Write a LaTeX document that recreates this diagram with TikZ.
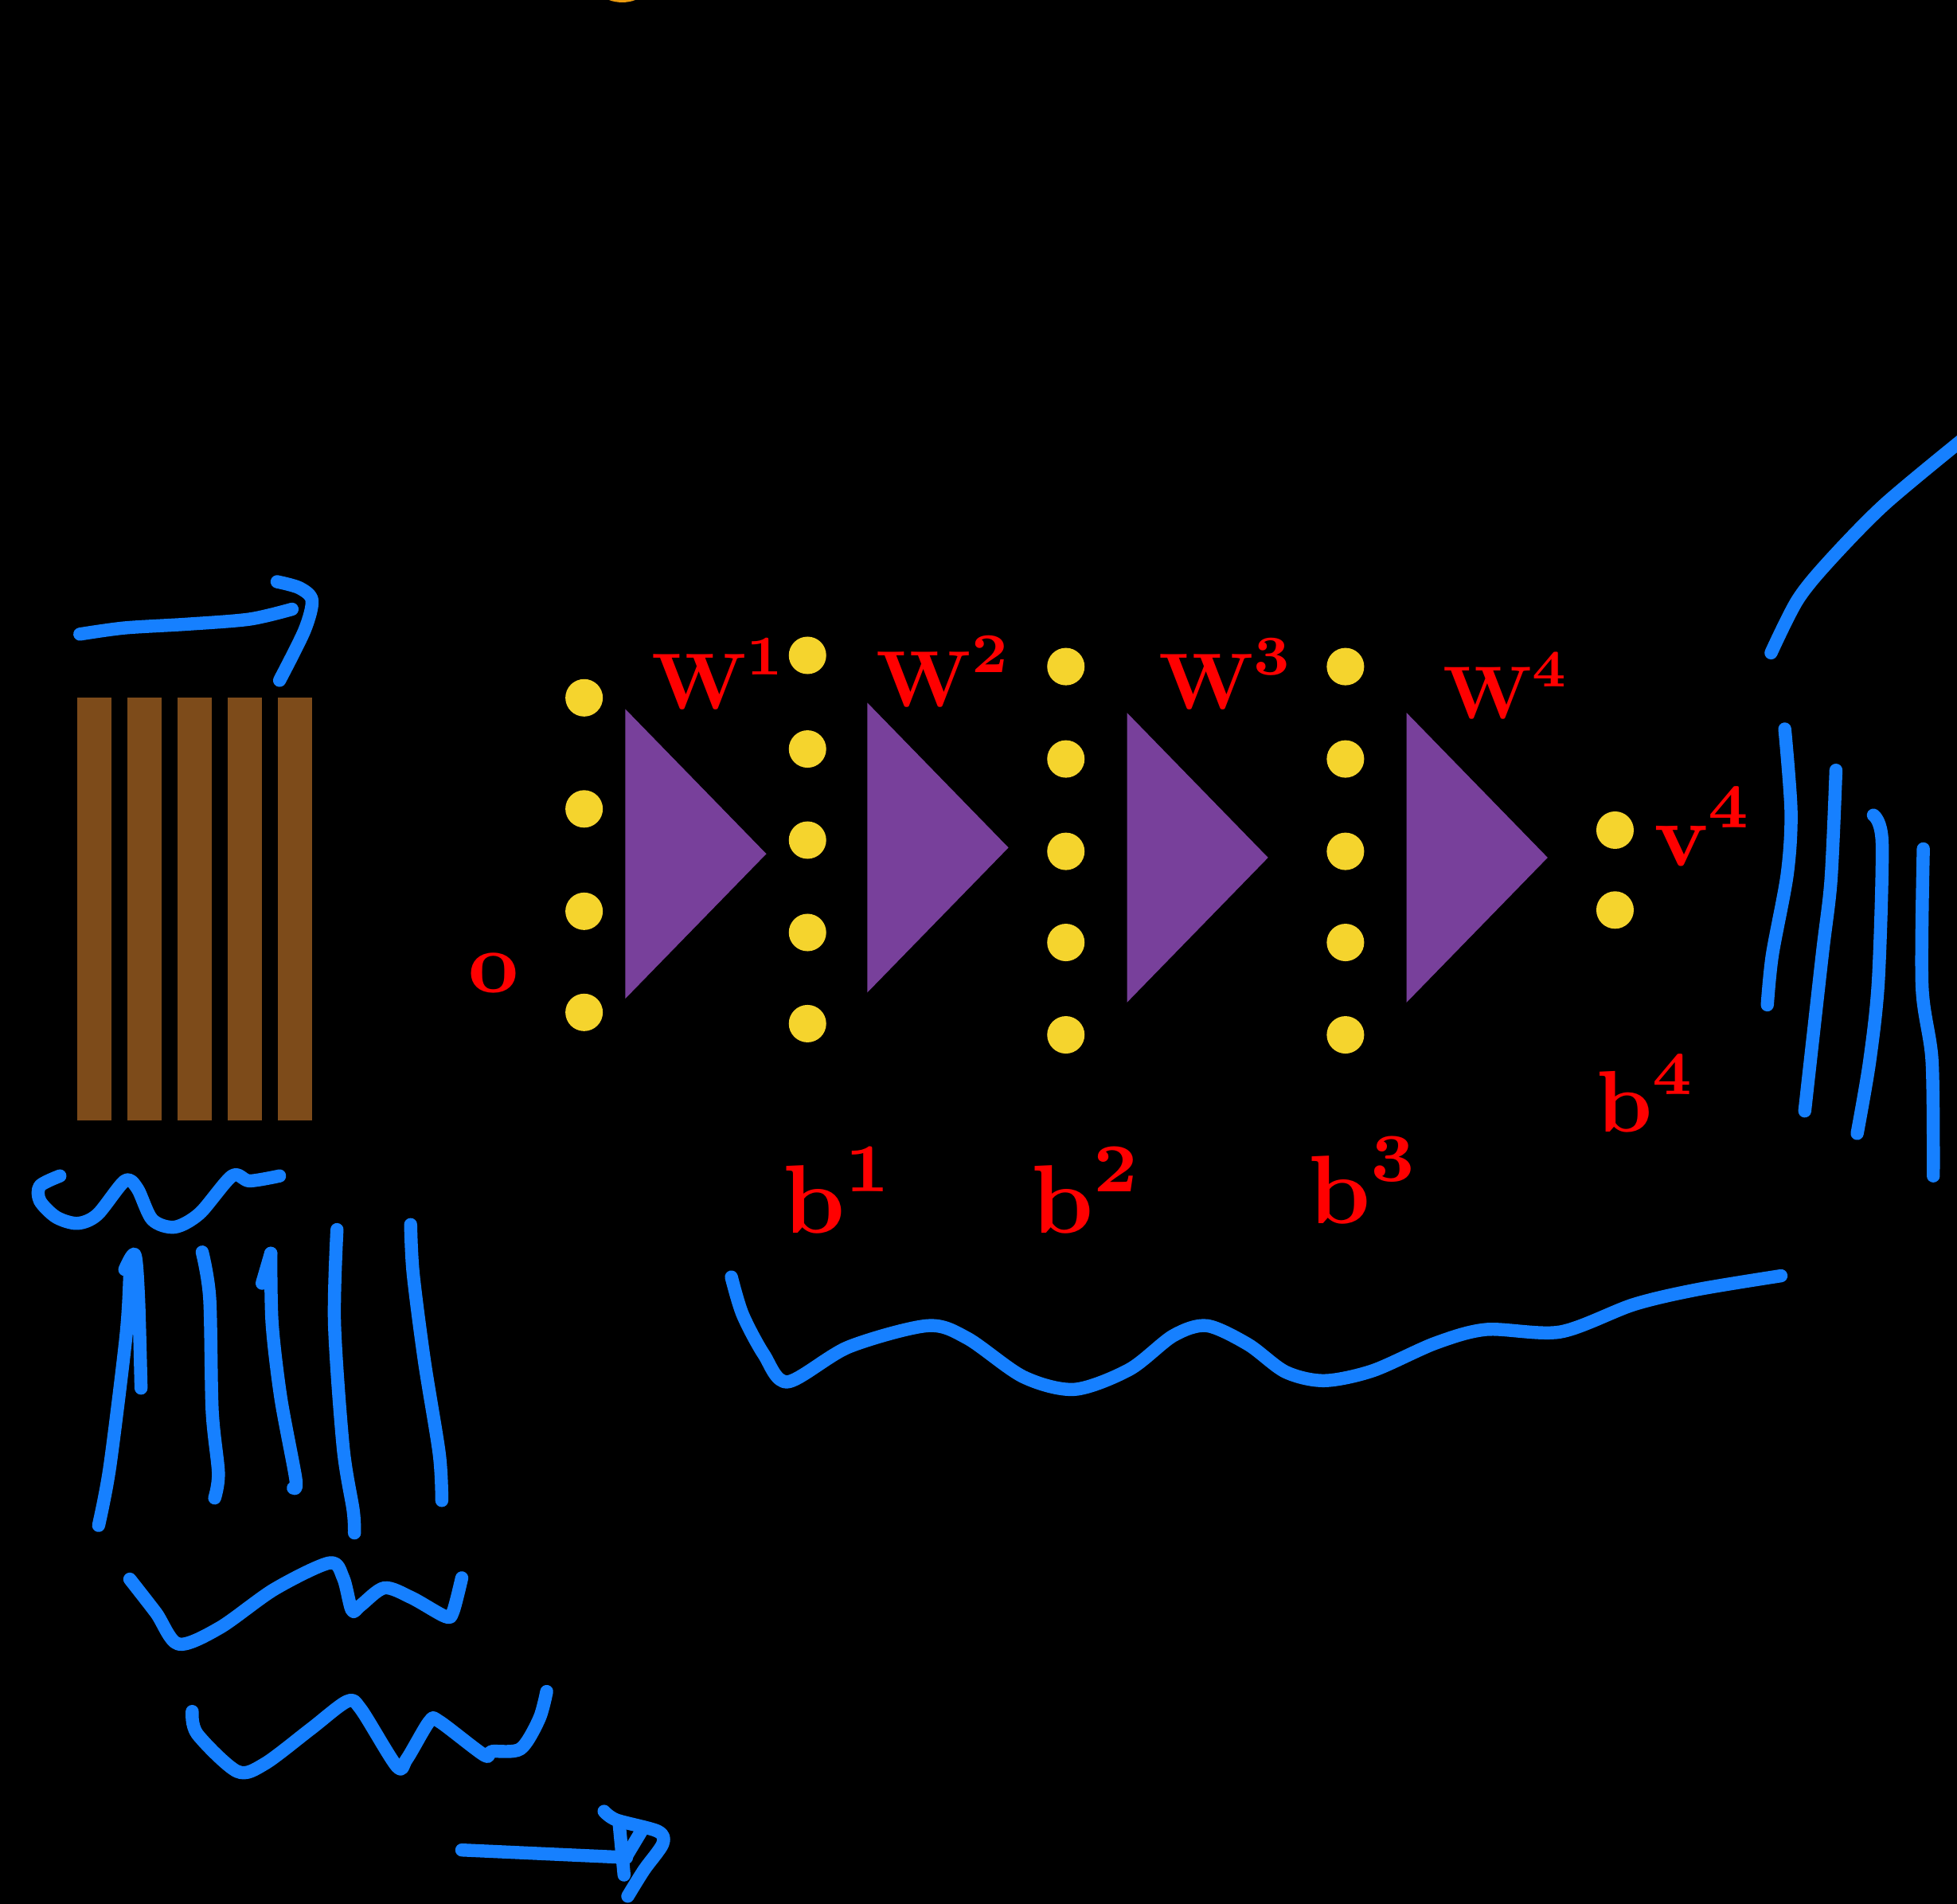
\documentclass[tikz,border=0pt]{standalone}
\usepackage{fontspec}
\newfontface\tenbf{lmroman10-bold.otf}
\newfontface\sevenbf{lmroman7-bold.otf}
\definecolor{barbrown}{RGB}{125,75,26}
\definecolor{dotyellow}{RGB}{245,212,45}
\definecolor{tripurple}{RGB}{120,64,155}
\definecolor{penblue}{RGB}{22,128,255}
\definecolor{sunorange}{RGB}{235,155,15}
% bold letter with a raised bold index: size, index size, letter, index
\newcommand{\idx}[4]{\fontsize{#1}{#1}\tenbf #3\raisebox{0.43em}{\fontsize{#2}{#2}\sevenbf #4}}
\begin{document}
\begin{tikzpicture}[x=1pt,y=-1pt,
  ink/.style={draw=penblue,line width=10.5pt,line cap=round,line join=round},
  dot/.style={circle,fill=dotyellow,inner sep=0pt,minimum size=30pt},
  lab/.style={text=red,anchor=base west,inner sep=0pt}]
\fill[black] (0,0) rectangle (1568,1525);
\useasboundingbox (0,0) rectangle (1568,1525);
\fill[sunorange] (488,0) .. controls (494,2.5) and (503,2.5) .. (509,0) -- cycle;
% input bars
\foreach \i in {0,...,4} \fill[barbrown] (61.9+40.17*\i,558.8) rectangle ++(27.4,338.8);
% layers of units
\foreach \y [count=\i] in {559,648,730,811} \node[dot] (a\i) at (468,\y) {};
\foreach \y [count=\i] in {525,600,673,747,820} \node[dot] (h\i) at (647,\y) {};
\foreach \y [count=\i] in {534,608,682,755,829} \node[dot] (g\i) at (854,\y) {};
\foreach \y [count=\i] in {534,608,682,755,829} \node[dot] (k\i) at (1078,\y) {};
\foreach \y [count=\i] in {665,729} \node[dot] (v\i) at (1294,\y) {};
% weight maps
\foreach \x/\y in {501/684,695/679,903/687,1127/687}
  \fill[tripurple] (\x,\y-116) -- ++(113,116) -- (\x,\y+116) -- cycle;
% labels
\node[lab,font=\fontsize{70}{76}\tenbf] (o) at (375,795) {o};
\node[lab] (w1) at (522,568) {\idx{64}{45}{W}{1}};
\node[lab] (w2) at (702,566) {\idx{64}{45}{W}{2}};
\node[lab] (w3) at (928,568) {\idx{64}{45}{W}{3}};
\node[lab] (w4) at (1156,576) {\idx{60}{42}{W}{4}};
\node[lab] (v4) at (1325,694) {\idx{72}{50}{v}{4}};
\node[lab] (b1) at (627,988) {\idx{78}{55}{b}{1}};
\node[lab] (b2) at (826,988) {\idx{78}{55}{b}{2}};
\node[lab] (b3) at (1048,980) {\idx{78}{55}{b}{3}};
\node[lab] (b4) at (1279,907) {\idx{70}{49}{b}{4}};
% pen strokes, left
\draw[ink] plot[smooth] coordinates {(64,508) (100,503) (150,500) (200,496) (234,488)};
\draw[ink] plot[smooth] coordinates {(222,466) (240,471) (250,481) (244,505) (224,545)};
\draw[ink] plot[smooth] coordinates {(48,942) (32,950) (32,962) (45,975) (62,980) (78,973) (100,946) (110,952) (122,977) (140,983) (160,972) (186,942) (200,946) (224,942)};
\draw[ink] plot[smooth] coordinates {(79,1222) (88,1175) (101,1070) (104,1022) (104,1010)};
\draw[ink] plot[smooth] coordinates {(100,1017) (108,1005) (111,1040) (113,1112)};
\draw[ink] plot[smooth] coordinates {(162,1003) (168,1040) (170,1130) (175,1180) (172,1200)};
\draw[ink] (210,1028) -- (217,1004);
\draw[ink] plot[smooth] coordinates {(217,1004) (218,1060) (225,1120) (237,1185) (235,1192)};
\draw[ink] plot[smooth] coordinates {(270,985) (268,1060) (275,1160) (283,1210) (284,1228)};
\draw[ink] plot[smooth] coordinates {(329,981) (331,1020) (340,1090) (352,1165) (354,1202)};
\draw[ink] plot[smooth] coordinates {(104,1265) (125,1292) (143,1317) (176,1304) (220,1273) (264,1252) (275,1264) (282,1290) (289,1286) (308,1272) (330,1280) (357,1295) (363,1291) (370,1264)};
\draw[ink] plot[smooth] coordinates {(154,1371) (158,1389) (190,1419) (212,1413) (249,1385) (278,1363) (289,1369) (318,1415) (326,1409) (344,1379) (352,1379) (388,1406) (394,1403) (417,1401) (432,1377) (438,1355)};
\draw[ink] (370,1482) -- (502,1488);
\draw[ink] plot[smooth] coordinates {(484,1451) (494,1458) (527,1467) (531,1477) (516,1498) (503,1519)};
\draw[ink] (496,1460) -- (500,1502);
\draw[ink] (500,1490) -- (515,1465);
% pen strokes, right
\draw[ink] plot[smooth] coordinates {(1419,523) (1440,481) (1465,450) (1510,404) (1575,350)};
\draw[ink] plot[smooth] coordinates {(1430,584) (1435,650) (1432,700) (1420,765) (1416,805)};
\draw[ink] plot[smooth] coordinates {(1471,617) (1467,705) (1460,765) (1446,890)};
\draw[ink] plot[smooth] coordinates {(1501,653) (1508,675) (1505,785) (1498,850) (1488,908)};
\draw[ink] plot[smooth] coordinates {(1541,680) (1540,790) (1548,850) (1549,942)};
\draw[ink] plot[smooth] coordinates {(586,1023) (595,1053) (612,1085) (631,1107) (680,1079) (743,1062) (775,1072) (820,1103) (861,1113) (905,1097) (940,1070) (967,1062) (1000,1077) (1030,1099) (1061,1106) (1100,1098) (1150,1076) (1191,1065) (1250,1067) (1309,1045) (1360,1033) (1427,1022)};
\end{tikzpicture}
\end{document}
